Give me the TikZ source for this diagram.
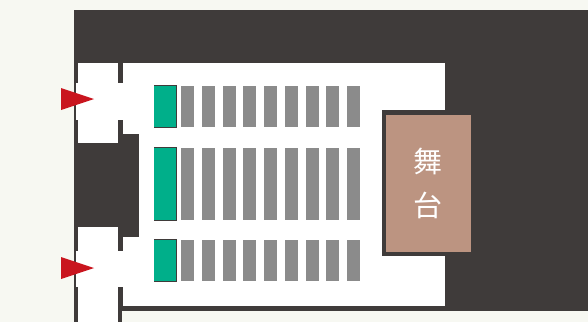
\documentclass[tikz,border=0pt]{standalone}
\usepackage{fontspec}
\newfontfamily\cjk{Noto Sans CJK JP}
\definecolor{ground}{HTML}{F7F8F2}
\definecolor{wall}{HTML}{3F3B3A}
\definecolor{bench}{HTML}{00AF8A}
\definecolor{seat}{HTML}{8B8B8B}
\definecolor{stagefill}{HTML}{BC9481}
\definecolor{entry}{HTML}{C9151E}
\begin{document}
\begin{tikzpicture}
  [x=1bp,y=-1bp,
   seatbox/.style={fill=seat},
   benchbox/.style={fill=bench},
   entrymark/.style={fill=entry}]
  \useasboundingbox (0,0) rectangle (588,322);
  \fill[ground] (0,0) rectangle (588,322);

  % building
  \fill[wall] (74,10) rectangle (588,310.5);
  \fill[ground] (122,310.5) rectangle (588,322);
  \fill[wall] (74,310) rectangle (122,322);

  % hall and corridors
  \fill[white] (122.5,63) rectangle (445,306);
  \fill[white] (78,63) rectangle (118,143);
  \fill[white] (78,227) rectangle (118,322);
  \fill[white] (76,83) rectangle (123,120);
  \fill[white] (76,251) rectangle (123,287);
  \fill[wall] (118,143) rectangle (139,227);
  \fill[wall] (122,134) rectangle (139,237);
  \fill[wall] (118,227) rectangle (122.5,251);
  \fill[wall] (382,110) rectangle (445,256);

  % seats
  \foreach \top/\bot in {86/127,148/220,240/281} {
    \fill[wall] (154,\top-.7) rectangle (177,\bot+.7);
    \fill[benchbox] (154,\top) rectangle (176,\bot);
    \foreach \col in {0,...,8}
      \fill[seatbox] (181+20.75*\col,\top) rectangle (194+20.75*\col,\bot);
  }

  % stage
  \node (stage) [fill=stagefill,minimum width=85bp,minimum height=137.5bp,inner sep=0pt,
    text=white,align=center,font=\cjk\fontsize{29bp}{44bp}\selectfont] at (428,183.25) {舞\\台};

  % entrances
  \fill[entrymark] (61,88) -- (94,99) -- (61,110) -- cycle;
  \fill[entrymark] (61,257) -- (94,268) -- (61,279) -- cycle;
\end{tikzpicture}
\end{document}
